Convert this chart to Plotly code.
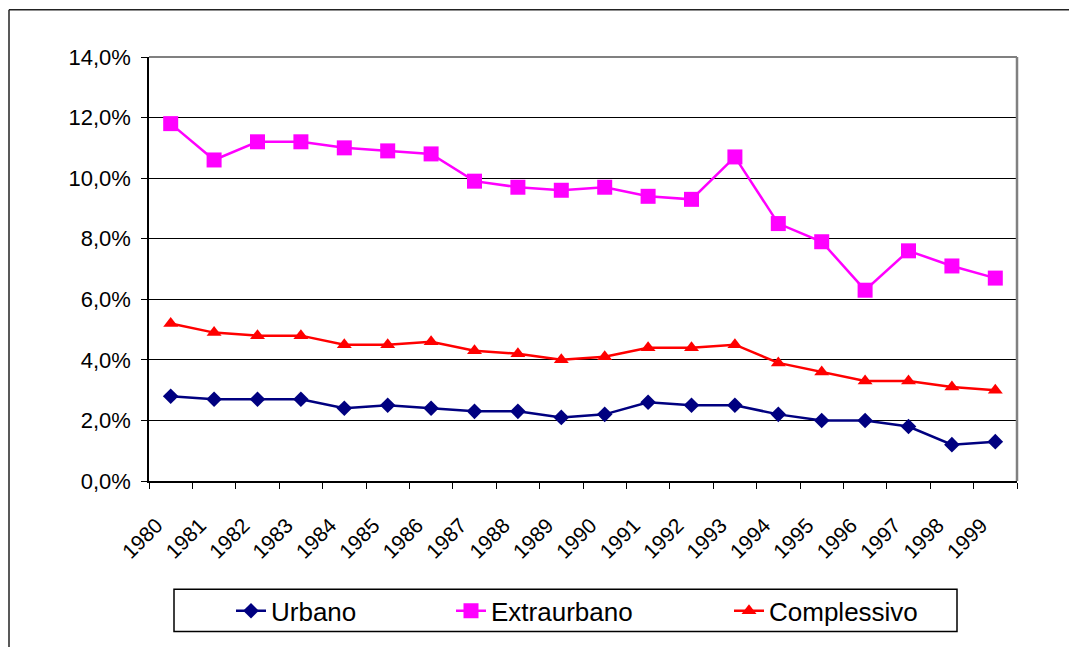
import plotly.graph_objects as go

years = [str(y) for y in range(1980, 2000)]
urbano = [2.8, 2.7, 2.7, 2.7, 2.4, 2.5, 2.4, 2.3, 2.3, 2.1, 2.2, 2.6, 2.5, 2.5, 2.2, 2.0, 2.0, 1.8, 1.2, 1.3]
extraurbano = [11.8, 10.6, 11.2, 11.2, 11.0, 10.9, 10.8, 9.9, 9.7, 9.6, 9.7, 9.4, 9.3, 10.7, 8.5, 7.9, 6.3, 7.6, 7.1, 6.7]
complessivo = [5.2, 4.9, 4.8, 4.8, 4.5, 4.5, 4.6, 4.3, 4.2, 4.0, 4.1, 4.4, 4.4, 4.5, 3.9, 3.6, 3.3, 3.3, 3.1, 3.0]
y_ticks = [0, 2, 4, 6, 8, 10, 12, 14]
y_ticktext = [f"{v:.1f}%".replace(".", ",") for v in y_ticks]

FONT = "Arial, Liberation Sans, sans-serif"

# page has an 8px body margin: figure is drawn 8px in from the window edge
OFF = 8
FW, FH = 1077 - 2 * OFF, 655 - 2 * OFF
# plot area in window pixels (from the reference)
L, R, T, B = 149, 1017, 57, 488
W, H = R - L, B - T
def px(x):
    return (x - L) / W
def py(y):
    return (B - y) / H

fig = go.Figure()
fig.add_trace(go.Scatter(x=years, y=urbano, name="Urbano", mode="lines+markers",
                         line=dict(color="#000080", width=2.5),
                         marker=dict(symbol="diamond", size=12, color="#000080"),
                         legend="legend"))
fig.add_trace(go.Scatter(x=years, y=extraurbano, name="Extraurbano", mode="lines+markers",
                         line=dict(color="#FF00FF", width=2.5),
                         marker=dict(symbol="square", size=15, color="#FF00FF"),
                         legend="legend2"))
fig.add_trace(go.Scatter(x=years, y=complessivo, name="Complessivo", mode="lines+markers",
                         line=dict(color="#FF0000", width=2.5),
                         marker=dict(symbol="triangle-up", size=13, color="#FF0000"),
                         legend="legend3"))

leg_common = dict(orientation="h", yanchor="middle", xanchor="left", y=py(620),
                  font=dict(family=FONT, size=26, color="black"),
                  bgcolor="rgba(0,0,0,0)", borderwidth=0)
fig.update_layout(
    legend=dict(x=px(272 - 41), **leg_common),
    legend2=dict(x=px(492 - 41), **leg_common),
    legend3=dict(x=px(770 - 41), **leg_common),
)

fig.update_layout(
    width=FW, height=FH,
    margin=dict(l=L - OFF, r=FW - (R - OFF), t=T - OFF, b=FH - (B - OFF)),
    paper_bgcolor="white", plot_bgcolor="white",
    font=dict(family=FONT, color="black"),
    showlegend=True,
    xaxis=dict(type="category", range=[-0.5, 19.5], showgrid=False,
               ticks="outside", tickson="boundaries", ticklen=6, tickwidth=1, tickcolor="black",
               showline=True, linecolor="black", linewidth=1.5,
               tickangle=-45, ticklabelstandoff=22, ticklabelshift=-14,
               tickfont=dict(family=FONT, size=21, color="black")),
    yaxis=dict(range=[0, 14], tickmode="array", tickvals=y_ticks, ticktext=y_ticktext,
               showgrid=True, gridcolor="black", gridwidth=1,
               ticks="outside", ticklen=6, tickwidth=1, tickcolor="black",
               showline=True, linecolor="black", linewidth=1.5, zeroline=False,
               ticklabelstandoff=6,
               tickfont=dict(family=FONT, size=22, color="black")),
    shapes=[
        # plot area border (gray top/right)
        dict(type="line", xref="paper", yref="paper", x0=0, x1=1, y0=1, y1=1,
             line=dict(color="#808080", width=2), layer="above"),
        dict(type="line", xref="paper", yref="paper", x0=1, x1=1, y0=0, y1=1,
             line=dict(color="#808080", width=2.5), layer="above"),
        # legend frame
        dict(type="rect", xref="paper", yref="paper", x0=px(174), x1=px(957), y0=py(641), y1=py(598),
             line=dict(color="black", width=1.5), layer="above"),
        # outer chart frame (clipped on the right and bottom)
        dict(type="line", xref="paper", yref="paper", x0=px(9), x1=px(1090), y0=py(9), y1=py(9),
             line=dict(color="#222222", width=1.5), layer="above"),
        dict(type="line", xref="paper", yref="paper", x0=px(9), x1=px(9), y0=py(9), y1=py(670),
             line=dict(color="#222222", width=1.5), layer="above"),
    ],
)

fig.write_html("out.html")
